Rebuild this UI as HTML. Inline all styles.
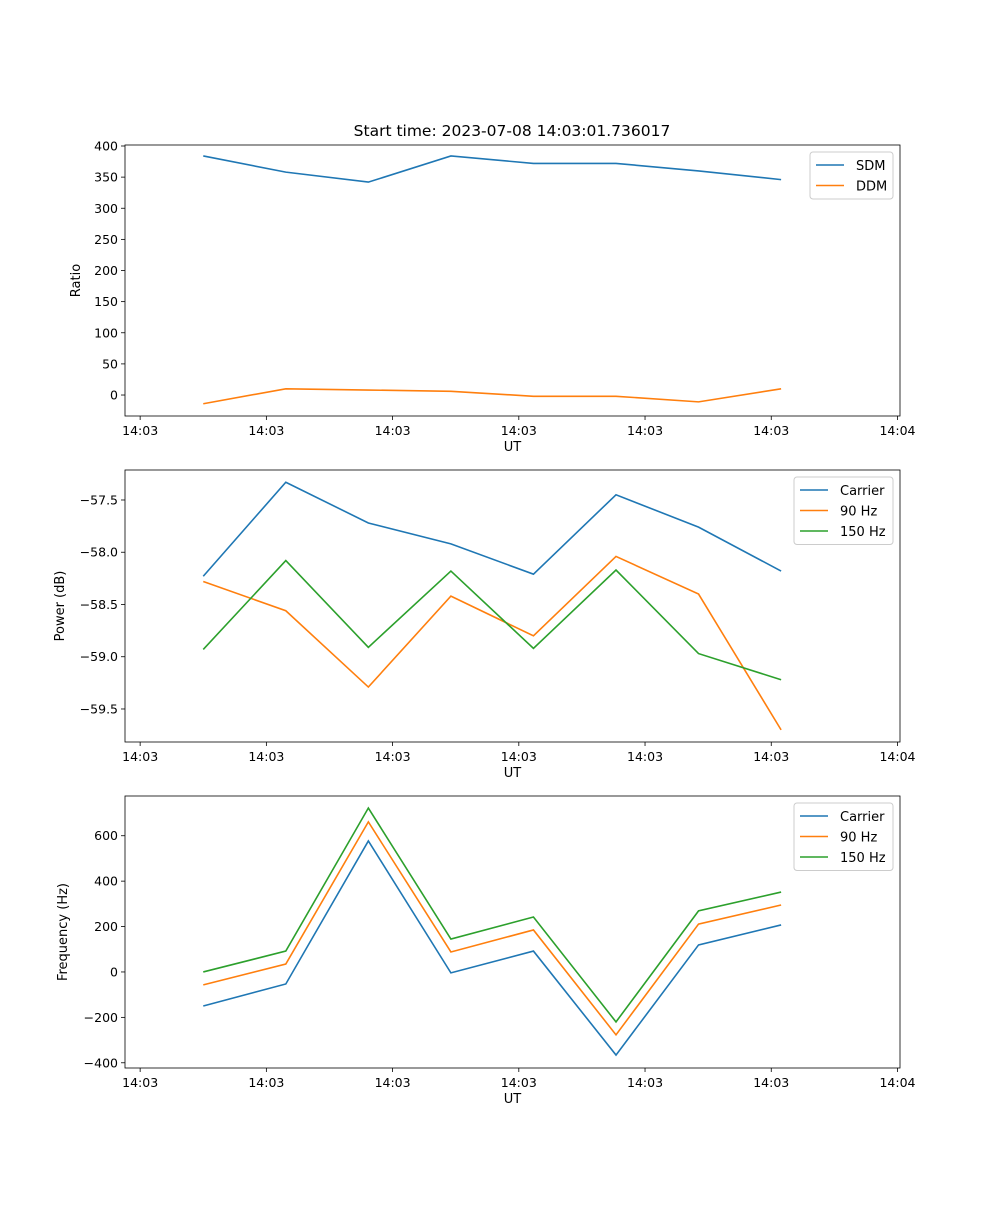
<!DOCTYPE html>
<html><head><meta charset="utf-8"><style>
body{margin:0;background:#fff}
svg text{font-family:"DejaVu Sans","Liberation Sans",sans-serif;fill:#000}
</style></head><body>
<svg id="fig" width="1000" height="1200" viewBox="0 0 1000 1200" xmlns="http://www.w3.org/2000/svg">
<rect width="1000" height="1200" fill="#fff"/>
<text x="512" y="136" font-size="15.5" text-anchor="middle">Start time: 2023-07-08 14:03:01.736017</text>
</svg>
<script>
// shared x data (seconds from 14:03:00)
const times = [5.0, 11.54, 18.08, 24.62, 31.16, 37.7, 44.24, 50.78];
const xTickValues = [0, 10, 20, 30, 40, 50, 60];
const xTickLabels = ["14:03","14:03","14:03","14:03","14:03","14:03","14:04"];
// panel 1
const sdm = [384, 358, 342, 384, 372, 372, 360, 346];
const ddm = [-14, 10, 8, 6, -2, -2, -11, 10];
const ratioTicks = [0, 50, 100, 150, 200, 250, 300, 350, 400];
// panel 2
const powCarrier = [-58.23, -57.33, -57.72, -57.92, -58.21, -57.45, -57.76, -58.18];
const pow90 = [-58.28, -58.56, -59.29, -58.42, -58.80, -58.04, -58.40, -59.70];
const pow150 = [-58.93, -58.08, -58.91, -58.18, -58.92, -58.17, -58.97, -59.22];
const powTicks = [-59.5, -59.0, -58.5, -58.0, -57.5];
// panel 3
const freqCarrier = [-150, -53, 577, -4, 92, -366, 119, 207];
const freq90 = [-57, 35, 661, 88, 185, -277, 211, 295];
const freq150 = [0, 92, 722, 145, 242, -220, 269, 352];
const freqTicks = [-400, -200, 0, 200, 400, 600];

const NS="http://www.w3.org/2000/svg";
const svg=document.getElementById('fig');
const C=['#1f77b4','#ff7f0e','#2ca02c'];
function mk(t,a,p){const e=document.createElementNS(NS,t);for(const k in a)e.setAttribute(k,a[k]);(p||svg).appendChild(e);return e;}
const L=125,R=900,xMin=-1.2,xMax=60.2;
function xs(v){return L+(v-xMin)/(xMax-xMin)*(R-L);}

function panel(name,top,bot,yMin,yMax,yTicks,fmt,ylabel,series,names,legendW){
  const g=mk('g',{});
  
  
  const ys=v=>bot-(v-yMin)/(yMax-yMin)*(bot-top);
  xTickValues.forEach((v,i)=>{
    const x=xs(v);
    mk('line',{x1:x,x2:x,y1:bot,y2:bot+4,stroke:'#000','stroke-width':0.8},g);
    const t=mk('text',{x:x,y:bot+19,'font-size':12.5,'text-anchor':'middle'},g);
    t.textContent=xTickLabels[i];
    
    
  });
  yTicks.forEach(v=>{
    const y=ys(v);
    mk('line',{x1:L-4,x2:L,y1:y,y2:y,stroke:'#000','stroke-width':0.8},g);
    const t=mk('text',{x:L-7,y:y+4.5,'font-size':12.5,'text-anchor':'end'},g);
    t.textContent=fmt(v);
    
    
  });
  series.forEach((s,i)=>{
    const p=mk('polyline',{points:s.map((v,j)=>xs(times[j])+','+ys(v)).join(' '),fill:'none',stroke:C[i],'stroke-width':1.6},g);
    
    
  });
  mk('rect',{x:L,y:top,width:R-L,height:bot-top,fill:'none',stroke:'#000','stroke-width':0.8},g);
  const xl=mk('text',{x:(L+R)/2,y:bot+35,'font-size':13,'text-anchor':'middle'},g);
  xl.textContent='UT';
  
  
  const yx=ylabel.x;
  const yl=mk('text',{x:yx,y:(top+bot)/2,'font-size':13,'text-anchor':'middle',transform:`rotate(-90 ${yx} ${(top+bot)/2})`},g);
  yl.textContent=ylabel.t;
  
  
  const lw=legendW,lh=names.length*20.5+6,lx=R-7-lw,ly=top+7;
  const lg=mk('g',{},g);
  
  
  mk('rect',{x:lx,y:ly,width:lw,height:lh,rx:3,fill:'#fff',stroke:'#ccc','stroke-width':1},lg);
  names.forEach((n,i)=>{
    const yy=ly+13+i*20.5;
    mk('line',{x1:lx+6,x2:lx+34,y1:yy,y2:yy,stroke:C[i],'stroke-width':1.6},lg);
    const t=mk('text',{x:lx+46,y:yy+5,'font-size':13},lg);
    t.textContent=n;
    
    
  });
}
panel('ratio-panel',145,416,-33.7,401.6,ratioTicks,v=>String(v),{t:'Ratio',x:80},[sdm,ddm],['SDM','DDM'],83);
panel('power-panel',470,742,-59.816,-57.213,powTicks,v=>v.toFixed(1).replace('-','\u2212'),{t:'Power (dB)',x:64},[powCarrier,pow90,pow150],['Carrier','90 Hz','150 Hz'],99);
panel('frequency-panel',796,1068,-423,775,freqTicks,v=>String(v).replace('-','\u2212'),{t:'Frequency (Hz)',x:67},[freqCarrier,freq90,freq150],['Carrier','90 Hz','150 Hz'],99);
</script>
</body></html>
